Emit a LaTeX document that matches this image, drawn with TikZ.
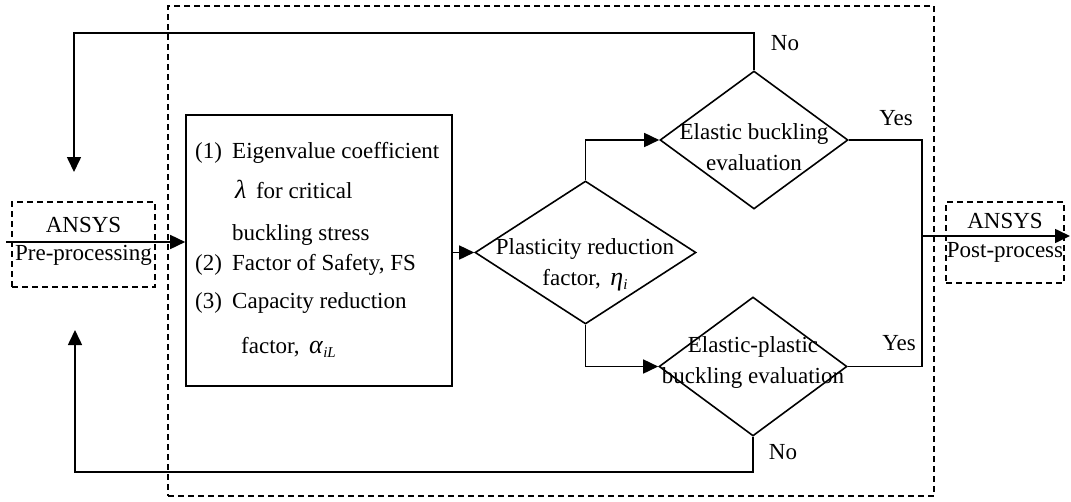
\documentclass[tikz,border=0pt]{standalone}
\usepackage{fontspec}
\setmainfont{Liberation Serif}
\usetikzlibrary{shapes.geometric,arrows.meta}
\tikzset{
  line/.style={line width=1.6pt},
  arr/.style={line width=1.6pt,-{Triangle[length=15pt,width=14pt]}},
  dbox/.style={draw,line width=1.5pt,dash pattern=on 6pt off 4pt,inner sep=0pt},
  sbox/.style={draw,line width=1.6pt,inner sep=0pt},
  dia/.style={diamond,draw,line width=1.6pt,inner sep=0pt},
  txt/.style={inner sep=0pt,align=center,font=\fontsize{23}{30.5}\selectfont},
  ltxt/.style={inner sep=0pt,anchor=base west,font=\fontsize{23}{28}\selectfont},
}
\begin{document}
\begin{tikzpicture}[x=1pt,y=-1pt]
\useasboundingbox (0,0) rectangle (1071,501);
% outer dashed frame
\node[dbox,minimum width=766pt,minimum height=490pt] (frame) at (551,251) {};
% pre / post boxes
\node[dbox,minimum width=143pt,minimum height=85pt] (pre) at (83.5,244.5) {};
\node[txt,font=\fontsize{23}{28}\selectfont] (pret) at (83.5,241) {ANSYS\\Pre-processing};
\node[dbox,minimum width=118pt,minimum height=81pt] (post) at (1005,242.5) {};
\node[txt,font=\fontsize{23}{29}\selectfont] (postt) at (1005,237.5) {ANSYS\\Post-process};
% parameter box
\node[sbox,minimum width=266pt,minimum height=271pt] (par) at (319,250.5) {};
\node[ltxt] (l1a) at (195,158) {(1)};
\node[ltxt] (l1b) at (232,158) {Eigenvalue coefficient};
\node[ltxt] (l2) at (235,198) {{\fontsize{26}{28}\selectfont\textit{λ}}\, for critical};
\node[ltxt] (l3) at (232,240) {buckling stress};
\node[ltxt] (l4a) at (195,270) {(2)};
\node[ltxt] (l4b) at (232,270) {Factor of Safety, FS};
\node[ltxt] (l5a) at (195,308) {(3)};
\node[ltxt] (l5b) at (232,308) {Capacity reduction};
\node[ltxt] (l6) at (241,353) {factor,\, {\fontsize{26}{28}\selectfont\textit{α}}\raisebox{-0.4ex}{\fontsize{15}{15}\selectfont\textit{iL}}};
% diamonds
\node[dia,minimum width=221pt,minimum height=143pt] (pl) at (585.5,252.5) {};
\node[txt] (plt) at (585,265) {Plasticity reduction\\factor,\, {\fontsize{26}{28}\selectfont\textit{η}}\raisebox{-0.4ex}{\fontsize{15}{15}\selectfont\textit{i}}};
\node[dia,minimum width=188pt,minimum height=138pt] (el) at (754,140) {};
\node[txt] (elt) at (754,147) {Elastic buckling\\evaluation};
\node[dia,minimum width=188pt,minimum height=139pt] (ep) at (753,366.5) {};
\node[txt] (ept) at (753,362.5) {Elastic-plastic\\buckling evaluation};
% coordinates
\coordinate (in) at (6,242);
\coordinate (tl) at (74,33);
\coordinate (tlend) at (74,172);
\coordinate (bl) at (75,472);
\coordinate (blend) at (75,330);
\coordinate (j) at (922,236);
\coordinate (out) at (1070,236);
% connectors
\draw[arr] (in) -- (in -| par.west);
\draw[arr] (pl.west -| par.east) -- (pl.west);
\draw[arr] (pl.north) |- (el.west);
\draw[arr] (pl.south) |- (ep.west);
\draw[arr] (el.north) |- (tl) -- (tlend);
\draw[arr] (ep.south) |- (bl) -- (blend);
\draw[line] (el.east) -| (j);
\draw[line] (ep.east) -| (j);
\draw[arr] (j) -- (out);
% labels
\node[txt] (no1) at (785,43) {No};
\node[txt] (yes1) at (896,118) {Yes};
\node[txt] (yes2) at (899,343) {Yes};
\node[txt] (no2) at (783,452) {No};
\end{tikzpicture}
\end{document}
